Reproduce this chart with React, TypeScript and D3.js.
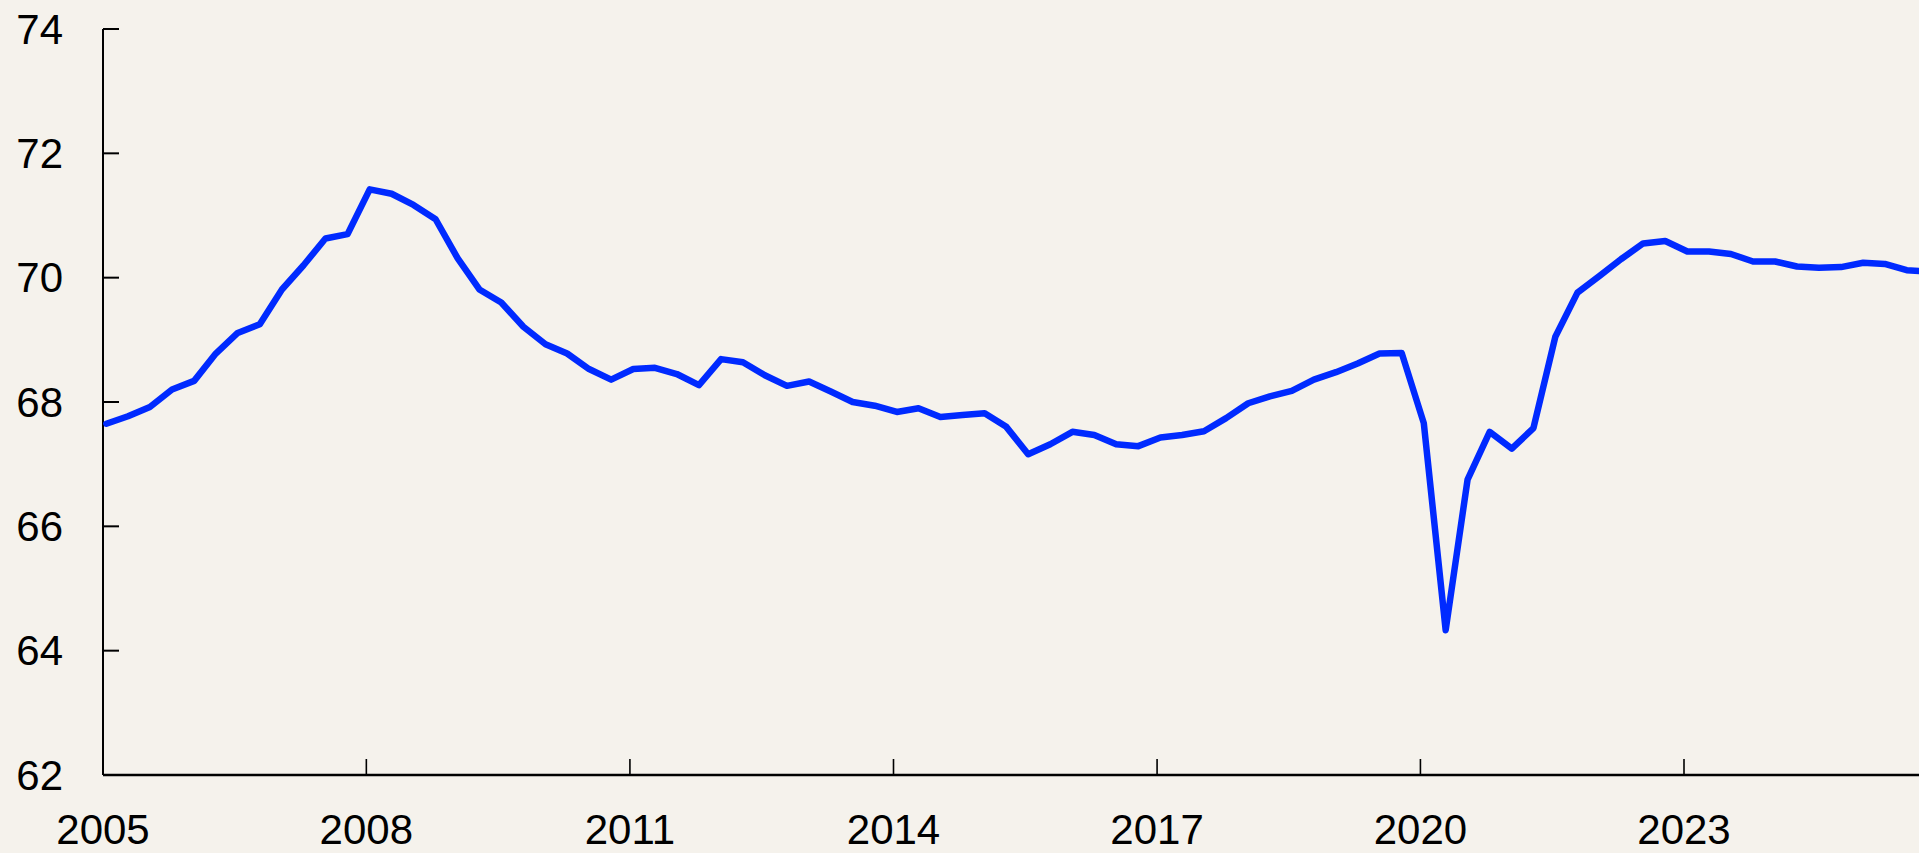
import React, { useRef, useEffect } from 'react';
import * as d3 from 'd3';

// quarterly series, 2005 Q1 .. 2025 Q4
const startYear = 2005;
const values = [
  67.65, 67.77, 67.92, 68.2,
  68.34, 68.78, 69.11, 69.25,
  69.81, 70.2, 70.63, 70.7,
  71.42, 71.35, 71.17, 70.94,
  70.31, 69.81, 69.6, 69.21,
  68.93, 68.78, 68.53, 68.36,
  68.53, 68.55, 68.45, 68.27,
  68.69, 68.64, 68.43, 68.26,
  68.33, 68.17, 68.0, 67.94,
  67.84, 67.9, 67.76, 67.79,
  67.82, 67.6, 67.16, 67.32,
  67.52, 67.47, 67.32, 67.29,
  67.43, 67.47, 67.53, 67.74,
  67.98, 68.09, 68.18, 68.36,
  68.48, 68.62, 68.78, 68.79,
  67.66, 64.33, 66.75, 67.52,
  67.25, 67.58, 69.05, 69.76,
  70.03, 70.3, 70.55, 70.59,
  70.42, 70.42, 70.38, 70.26,
  70.26, 70.18, 70.16, 70.17,
  70.24, 70.22, 70.12, 70.1,
];
const yTicks = [62, 64, 66, 68, 70, 72, 74];
const xTickYears = [2005, 2008, 2011, 2014, 2017, 2020, 2023];

const App = () => {
  const d3Container = useRef(null);

  useEffect(() => {
    if (!d3Container.current) return;
    d3.select(d3Container.current).selectAll('*').remove();

    const width = 1919;
    const height = 853;
    const left = 103;
    const bottom = 775;
    const top = 29;

    const data = values.map((v, i) => ({
      date: new Date(startYear + Math.floor(i / 4), (i % 4) * 3, 15),
      value: v,
    }));

    const svg = d3.select(d3Container.current)
      .append('svg')
        .attr('width', width)
        .attr('height', height)
        .style('display', 'block')
        .style('background', '#f5f2ec');

    const x = d3.scaleTime()
      .domain([new Date(2005, 0, 1), new Date(2023, 0, 1)])
      .range([left, 1684]);
    const y = d3.scaleLinear()
      .domain([62, 74])
      .range([bottom, top]);

    const font = '"Liberation Sans", Arial, sans-serif';

    // y axis
    svg.append('line')
      .attr('x1', left).attr('x2', left)
      .attr('y1', top).attr('y2', bottom)
      .attr('stroke', '#000').attr('stroke-width', 2);
    svg.selectAll('.ytick')
      .data(yTicks)
      .join('line')
        .attr('x1', left).attr('x2', left + 16)
        .attr('y1', d => y(d)).attr('y2', d => y(d))
        .attr('stroke', '#000').attr('stroke-width', 2);
    svg.selectAll('.ylabel')
      .data(yTicks)
      .join('text')
        .attr('x', 63)
        .attr('y', d => y(d))
        .attr('dy', '0.35em')
        .attr('text-anchor', 'end')
        .style('font-family', font)
        .style('font-size', '42px')
        .attr('fill', '#000')
        .text(d => d);

    // x axis
    svg.append('line')
      .attr('x1', left).attr('x2', width)
      .attr('y1', bottom).attr('y2', bottom)
      .attr('stroke', '#000').attr('stroke-width', 2.5);
    svg.selectAll('.xtick')
      .data(xTickYears)
      .join('line')
        .attr('x1', d => x(new Date(d, 0, 1))).attr('x2', d => x(new Date(d, 0, 1)))
        .attr('y1', bottom - 16).attr('y2', bottom)
        .attr('stroke', '#000').attr('stroke-width', 1.6);
    svg.selectAll('.xlabel')
      .data(xTickYears)
      .join('text')
        .attr('x', d => x(new Date(d, 0, 1)))
        .attr('y', 844)
        .attr('text-anchor', 'middle')
        .style('font-family', font)
        .style('font-size', '42px')
        .attr('fill', '#000')
        .text(d => d);

    const line = d3.line()
      .x(d => x(d.date))
      .y(d => y(d.value));

    svg.append('path')
      .datum(data)
      .attr('d', line)
      .attr('fill', 'none')
      .attr('stroke', '#002aff')
      .attr('stroke-width', 6.5)
      .attr('stroke-linejoin', 'round')
      .attr('stroke-linecap', 'round');
  }, []);

  return (
    <>
      <style>{'body{margin:0;overflow:hidden;background:#f5f2ec}'}</style>
      <div ref={d3Container} />
    </>
  );
};

export default App;
